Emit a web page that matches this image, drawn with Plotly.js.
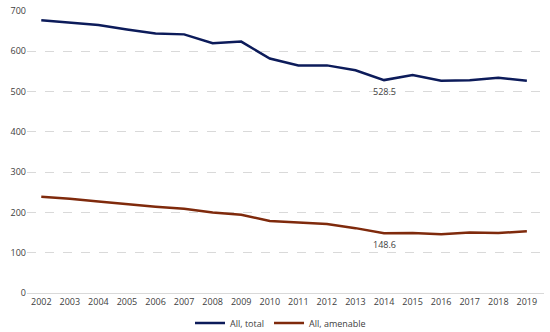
<!DOCTYPE html>
<html><head><meta charset="utf-8">
<script src="https://cdn.plot.ly/plotly-3.0.1.min.js"></script>
<style>html,body{margin:0;padding:0;background:#fff}#c{width:550px;height:332px}</style>
</head><body><div id="c"></div>
<script>
const years = ["2002","2003","2004","2005","2006","2007","2008","2009","2010","2011","2012","2013","2014","2015","2016","2017","2018","2019"];
const allTotal = [677,671,665,654,644,642,620,624,582,565,565,553,528.5,541,527,528,534,527];
const allAmenable = [239,234,227,220,214,209,200,194,179,175,171,161,148.6,149,146,150,149,153];
const labelIndex = 12;

const font = {family: "Open Sans, DejaVu Sans, sans-serif", size: 9, color: "#404040"};
const data = [
  {x: years, y: allTotal, type: "scatter", mode: "lines", name: "All, total",
   line: {color: "#0c1b5a", width: 2.5}},
  {x: years, y: allAmenable, type: "scatter", mode: "lines", name: "All, amenable",
   line: {color: "#7f2a0c", width: 2.5}}
];
const layout = {
  width: 550, height: 332,
  margin: {l: 27, r: 6, t: 11, b: 39, autoexpand: false},
  paper_bgcolor: "#fff", plot_bgcolor: "#fff",
  font: font,
  showlegend: true,
  legend: {orientation: "h", x: 0.51, xanchor: "center", xref: "container", yref: "container", y: 0.027, yanchor: "middle",
           font: {family: font.family, size: 9, color: "#404040"}, itemwidth: 30, tracegroupgap: 0},
  xaxis: {type: "category", range: [-0.5, 17.6], showgrid: false, showline: true, linecolor: "#d9d9d9", linewidth: 1,
          ticks: "", tickfont: font, zeroline: false},
  yaxis: {range: [0, 700], dtick: 100, showgrid: true, gridcolor: "#d9d9d9", griddash: "dash", gridwidth: 1,
          zeroline: false, showline: false, ticks: "", tickfont: font},
  annotations: [
    {xref: "x", yref: "y", x: labelIndex, y: allTotal[labelIndex], text: allTotal[labelIndex].toFixed(1), showarrow: false,
     yanchor: "top", yshift: -3, font: {family: font.family, size: 9, color: "#404040"}},
    {xref: "x", yref: "y", x: labelIndex, y: allAmenable[labelIndex], text: allAmenable[labelIndex].toFixed(1), showarrow: false,
     yanchor: "top", yshift: -3, font: {family: font.family, size: 9, color: "#404040"}}
  ]
};
Plotly.newPlot("c", data, layout, {staticPlot: true, displayModeBar: false});
</script></body></html>
